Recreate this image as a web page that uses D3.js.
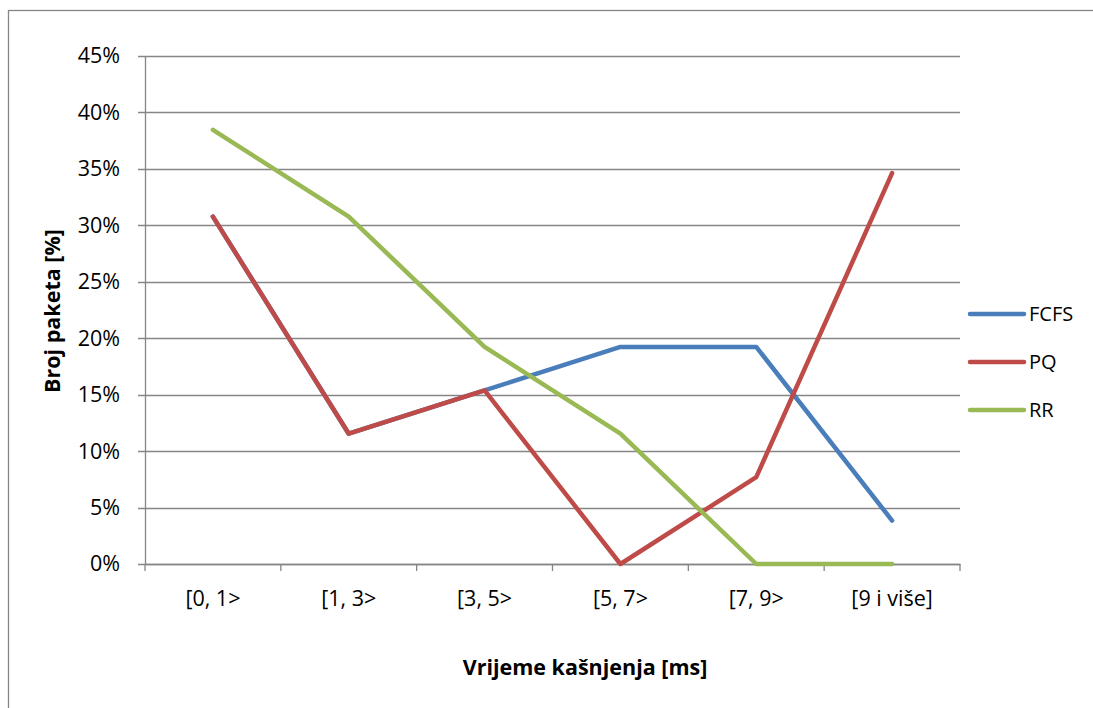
<!DOCTYPE html>
<html>
<head>
<meta charset="utf-8">
<script src="https://cdn.jsdelivr.net/npm/d3@7"></script>
<style>
  body { margin: 0; background: #fff; }
  svg { font-family: "Open Sans", "Noto Sans", sans-serif; }
</style>
</head>
<body>
<svg id="chart" width="1093" height="708"></svg>
<script>
// data
const categories = ["[0, 1>", "[1, 3>", "[3, 5>", "[5, 7>", "[7, 9>", "[9 i više]"];
const fcfs = [30.77, 11.54, 15.38, 19.23, 19.23, 3.85];
const pq   = [30.77, 11.54, 15.38, 0, 7.69, 34.62];
const rr   = [38.46, 30.77, 19.23, 11.54, 0, 0];
const yTicks = [0, 5, 10, 15, 20, 25, 30, 35, 40, 45];

const series = [
  { name: "FCFS", values: fcfs, color: "#4a7ebb" },
  { name: "PQ",   values: pq,   color: "#be4b48" },
  { name: "RR",   values: rr,   color: "#98b954" }
];

const svg = d3.select("#chart");
const margin = { top: 56, right: 133, bottom: 144, left: 145 };
const width  = 1093 - margin.left - margin.right;
const height = 708 - margin.top - margin.bottom;
const fontSize = "21.5px";

// outer frame
svg.append("rect")
  .attr("x", 8.5).attr("y", 10.5)
  .attr("width", 1200).attr("height", 800)
  .attr("fill", "none")
  .attr("stroke", "#868686")
  .attr("stroke-width", 1.3);

const g = svg.append("g")
  .attr("transform", `translate(${margin.left},${margin.top})`);

const x = d3.scaleBand().domain(categories).range([0, width]);
const y = d3.scaleLinear().domain([0, 45]).range([height, 0]);

// grid
g.append("g")
  .selectAll("line")
  .data(yTicks)
  .join("line")
    .attr("x1", -7).attr("x2", width)
    .attr("y1", d => Math.round(y(d)) + 0.5)
    .attr("y2", d => Math.round(y(d)) + 0.5)
    .attr("stroke", "#868686")
    .attr("stroke-width", 1.3);

// y axis
const yAxis = g.append("g")
  .call(d3.axisLeft(y).tickValues(yTicks).tickSize(0).tickPadding(25)
    .tickFormat(d => d + "%"))
  .attr("font-family", null);
yAxis.select(".domain").attr("stroke", "#868686").attr("stroke-width", 1.3);
yAxis.selectAll("text").style("font-size", fontSize).attr("fill", "#000");

// x axis
const xAxis = g.append("g")
  .attr("transform", `translate(0,${height})`)
  .call(d3.axisBottom(x).tickSize(0))
  .attr("font-family", null);
xAxis.select(".domain").attr("stroke", "#868686").attr("stroke-width", 1.3);
xAxis.selectAll("text")
  .attr("y", 34).attr("dy", "0.35em")
  .style("font-size", fontSize).attr("fill", "#000");

// x tick marks on category boundaries
g.append("g")
  .selectAll("line")
  .data(d3.range(categories.length + 1))
  .join("line")
    .attr("x1", i => i * x.bandwidth())
    .attr("x2", i => i * x.bandwidth())
    .attr("y1", height).attr("y2", height + 7)
    .attr("stroke", "#868686")
    .attr("stroke-width", 1.3);

// lines
const line = d3.line()
  .x((d, i) => x(categories[i]) + x.bandwidth() / 2)
  .y(d => y(d));

g.append("g")
  .selectAll("path")
  .data(series)
  .join("path")
    .attr("d", d => line(d.values))
    .attr("fill", "none")
    .attr("stroke", d => d.color)
    .attr("stroke-width", 4.5)
    .attr("stroke-linejoin", "round")
    .attr("stroke-linecap", "round");

// legend
const legendY = [314, 362, 410];
const legend = svg.append("g")
  .selectAll("g")
  .data(series)
  .join("g")
    .attr("transform", (d, i) => `translate(970,${legendY[i]})`);
legend.append("line")
  .attr("x1", 0).attr("x2", 54)
  .attr("stroke", d => d.color)
  .attr("stroke-width", 4.5)
  .attr("stroke-linecap", "round");
legend.append("text")
  .attr("x", 59).attr("dy", "0.35em")
  .style("font-size", "20px")
  .text(d => d.name);

// axis titles
svg.append("text")
  .attr("x", 585)
  .attr("y", 667)
  .attr("dy", "0.35em")
  .attr("text-anchor", "middle")
  .style("font-size", fontSize)
  .style("font-weight", "bold")
  .text("Vrijeme kašnjenja [ms]");

svg.append("text")
  .attr("transform", "translate(52,311) rotate(-90)")
  .attr("dy", "0.35em")
  .attr("text-anchor", "middle")
  .style("font-size", fontSize)
  .style("font-weight", "bold")
  .text("Broj paketa [%]");
</script>
</body>
</html>
